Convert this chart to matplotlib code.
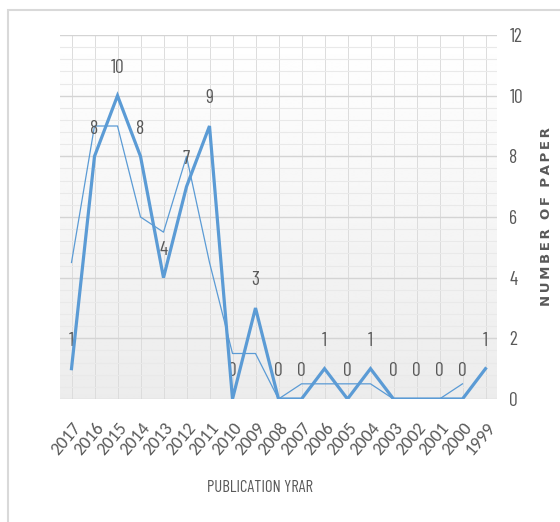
import matplotlib
matplotlib.use("Agg")
import matplotlib.pyplot as plt
import numpy as np
from matplotlib.patches import Rectangle
from matplotlib.ticker import MultipleLocator

years = ["2017", "2016", "2015", "2014", "2013", "2012", "2011", "2010", "2009", "2008",
         "2007", "2006", "2005", "2004", "2003", "2002", "2001", "2000", "1999"]
papers = [1, 8, 10, 8, 4, 7, 9, 0, 3, 0, 0, 1, 0, 1, 0, 0, 0, 0, 1]
# two-period moving average trendline values
trend = [4.5, 9, 9, 6, 5.5, 8, 4.5, 1.5, 1.5, 0, 0.5, 0.5, 0.5, 0.5, 0, 0, 0, 0.5]

narrow = ["Barlow Condensed", "DejaVu Sans"]
regular = ["Carlito", "DejaVu Sans"]
gray = "#595959"
blue = "#5B9BD5"

fig = plt.figure(figsize=(5.6, 5.22), dpi=100)
fig.patch.set_facecolor("white")

# chart frame
fig.add_artist(Rectangle((8 / 560, 1 - 10 / 522 - 1.0), 1.2, 1.0, transform=fig.transFigure,
                         fill=False, edgecolor="#d9d9d9", linewidth=1.5, clip_on=False))

ax = fig.add_axes([60 / 560, 1 - 399 / 522, 437 / 560, 364 / 522])
x = np.arange(len(years))
ax.set_xlim(-0.5, len(years) - 0.5)
ax.set_ylim(0, 12)

# vertical gradient background
grad = np.linspace(0.925, 1.0, 256).reshape(-1, 1)
ax.imshow(grad, extent=(-0.5, len(years) - 0.5, 0, 12), origin="lower", aspect="auto",
          cmap="gray", vmin=0, vmax=1, zorder=0)

ax.yaxis.set_major_locator(MultipleLocator(2))
ax.yaxis.set_minor_locator(MultipleLocator(0.4))
ax.grid(True, axis="y", which="major", color="#d4d4d4", linewidth=1.0, zorder=1)
ax.grid(True, axis="y", which="minor", color="#e9e9e9", linewidth=0.8, zorder=1)
for xi in x:
    ax.axvline(xi, color="#dcdcdc", linewidth=0.7, zorder=1)

ax.plot(x[:len(trend)], trend, color=blue, linewidth=0.9, zorder=3)
ax.plot(x, papers, color=blue, linewidth=2.3, zorder=4, solid_joinstyle="miter")

for xi, v in zip(x, papers):
    ax.annotate(str(v), (xi, v), xytext=(0, 20), textcoords="offset points",
                ha="center", va="center", fontsize=14, color=gray, family=narrow)

for s in ax.spines.values():
    s.set_visible(False)

ax.yaxis.tick_right()
ax.yaxis.set_label_position("right")
ax.tick_params(axis="y", which="both", length=0, pad=9, labelsize=14, labelcolor=gray)
for t in ax.get_yticklabels():
    t.set_family(narrow)
ax.set_xticks(x)
ax.set_xticklabels(years, rotation=50, ha="right", va="top", rotation_mode="anchor",
                   fontsize=13, color=gray, family=regular)
ax.tick_params(axis="x", length=0, pad=15)

ax.set_ylabel("N U M B E R   O F   P A P E R".replace(" ", "\u2009").replace("\u2009\u2009\u2009", "  "),
              fontsize=9.5, color=gray, fontweight="bold", labelpad=12,
              family="DejaVu Sans")

fig.text(260 / 560, 1 - 487 / 522, "PUBLICATION YRAR", ha="center", va="center",
         fontsize=12, color=gray, family=narrow)

fig.savefig("out.png", dpi=100, facecolor="white")
